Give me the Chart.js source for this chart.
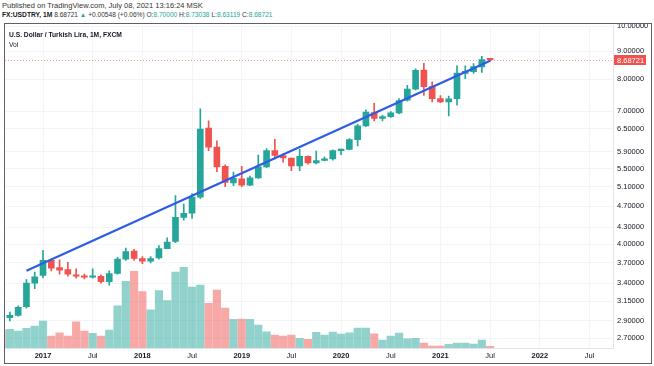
<!DOCTYPE html>
<html>
<head>
<meta charset="utf-8">
<script src="https://cdn.jsdelivr.net/npm/chart.js@4/dist/chart.umd.min.js"></script>
<style>
body { margin: 0; width: 654px; height: 366px; background: #fff; position: relative; overflow: hidden;
       font-family: "Liberation Sans", Arial, sans-serif; color: #131722; }
#pub { position: absolute; left: 2px; top: 1px; font-size: 7.5px; color: #333; white-space: nowrap; }
#sym { position: absolute; left: 2px; top: 11px; font-size: 6.6px; color: #333; white-space: nowrap; }
#sym b { color: #131722; font-size: 6.7px; }
#sym .v { color: #26a69a; }
#frame { position: absolute; left: 4px; top: 23px; width: 648px; height: 341px; box-sizing: border-box;
         border: 1px solid #5d606b; overflow: hidden; }
#chart { position: absolute; left: 0; top: -7px; }
#title { position: absolute; left: 4px; top: 7px; font-size: 6.7px; font-weight: bold; white-space: nowrap; }
#vol { position: absolute; left: 4px; top: 17px; font-size: 6.7px; white-space: nowrap; }
</style>
</head>
<body>
<div id="pub">Published on TradingView.com, July 08, 2021 13:16:24 MSK</div>
<div id="sym"><b>FX:USDTRY, 1M</b> 8.68721 <span class="v">▲</span> +0.00548 (+0.06%) O:<span class="v">8.70000</span> H:<span class="v">8.73038</span> L:<span class="v">8.63119</span> C:<span class="v">8.68721</span></div>
<div id="frame">
  <canvas id="chart" width="646" height="345"></canvas>
  <div id="title">U.S. Dollar / Turkish Lira, 1M, FXCM</div>
  <div id="vol">Vol</div>
</div>
<script>
// monthly candles, Aug 2016 .. Jul 2021 (x = month index)
var opens  = [2.97, 2.94, 2.97, 3.08, 3.40, 3.51, 3.74, 3.63, 3.60, 3.52, 3.50, 3.485, 3.50, 3.42, 3.54, 3.76, 3.89, 3.77, 3.73, 3.78,
              3.93, 4.05, 4.48, 4.56, 4.88, 6.52, 6.02, 5.55, 5.18, 5.27, 5.13, 5.29, 5.54, 5.93, 5.81, 5.75, 5.56, 5.79, 5.63, 5.69,
              5.73, 5.93, 5.96, 6.21, 6.58, 6.96, 6.79, 6.84, 6.95, 7.33, 7.68, 8.32, 7.76, 7.38, 7.28, 7.38, 8.20, 8.26, 8.43, 8.70];
var highs  = [3.00, 3.01, 3.09, 3.45, 3.56, 3.90, 3.77, 3.75, 3.71, 3.61, 3.53, 3.61, 3.52, 3.58, 3.79, 3.94, 3.92, 3.80, 3.80, 3.98,
              4.11, 4.91, 4.74, 4.95, 7.07, 6.72, 6.18, 5.59, 5.42, 5.55, 5.33, 5.82, 5.98, 6.22, 5.85, 5.75, 5.96, 5.80, 5.92, 5.78,
              5.95, 5.97, 6.24, 6.62, 7.04, 7.23, 6.88, 6.99, 7.38, 7.80, 8.36, 8.56, 7.92, 7.47, 7.46, 8.47, 8.47, 8.55, 8.81, 8.73038];
var lows   = [2.92, 2.90, 2.96, 3.06, 3.32, 3.48, 3.58, 3.53, 3.50, 3.47, 3.46, 3.47, 3.40, 3.37, 3.53, 3.74, 3.74, 3.69, 3.70, 3.76,
              3.93, 4.03, 4.43, 4.46, 4.85, 5.93, 5.43, 5.10, 5.12, 5.10, 5.12, 5.28, 5.52, 5.73, 5.65, 5.45, 5.45, 5.60, 5.61, 5.68,
              5.70, 5.83, 5.95, 6.05, 6.56, 6.72, 6.72, 6.82, 6.92, 7.30, 7.65, 7.48, 7.28, 7.25, 6.86, 7.18, 8.02, 8.20, 8.24, 8.63119];
var closes = [2.945, 2.97, 3.07, 3.40, 3.49, 3.74, 3.62, 3.59, 3.53, 3.50, 3.485, 3.50, 3.42, 3.54, 3.76, 3.88, 3.77, 3.73, 3.77, 3.93,
              4.04, 4.48, 4.56, 4.88, 6.49, 6.02, 5.54, 5.19, 5.28, 5.13, 5.29, 5.54, 5.93, 5.81, 5.75, 5.56, 5.79, 5.63, 5.69, 5.73,
              5.93, 5.96, 6.21, 6.58, 6.97, 6.79, 6.84, 6.95, 7.32, 7.68, 8.31, 7.76, 7.38, 7.28, 7.37, 8.21, 8.27, 8.44, 8.69, 8.68721];
var volumes = [18, 18.7, 17, 19.7, 22, 27, 12, 15.3, 12, 26.3, 17, 14.7, 12, 18, 42.3, 67, 77, 56.7, 38.3, 57.7,
               47.7, 76.3, 81, 61.3, 63.3, 45, 58.3, 40, 28.7, 29, 28.7, 23, 16.3, 13, 12, 13, 9.7, 8.7, 15.7, 13,
               16, 14, 15.3, 20, 20, 14.3, 8, 12, 15, 9.3, 9.7, 5, 2, 2, 3.7, 5, 5, 4, 8, 1.7];

// trend line (month index, price)
var trendX = [3, 59];
var trendY = [3.58, 8.65];

// axis ticks
var priceTicks = [10, 9, 8, 7, 6.5, 5.9, 5.5, 5.1, 4.7, 4.3, 4.0, 3.7, 3.4, 3.15, 2.9, 2.7];
var timeTickPos = [5, 11, 17, 23, 29, 35, 41, 47, 53, 59, 65, 71];
var timeTickLabels = ['2017', 'Jul', '2018', 'Jul', '2019', 'Jul', '2020', 'Jul', '2021', 'Jul', '2022', 'Jul'];

var UP = '#26a69a', DOWN = '#ef5350';
var UP_VOL = 'rgba(38,166,154,0.5)', DOWN_VOL = 'rgba(239,83,80,0.5)';

var bodies = [], wicks = [], vols = [], candleColors = [], volColors = [];
for (var i = 0; i < opens.length; i++) {
    bodies.push({x: i, y: [opens[i], closes[i]]});
    wicks.push({x: i, y: [lows[i], highs[i]]});
    vols.push({x: i, y: volumes[i]});
    var up = closes[i] >= opens[i];
    candleColors.push(up ? UP : DOWN);
    volColors.push(up ? UP_VOL : DOWN_VOL);
}
var trend = trendX.map(function (x, k) { return {x: x, y: trendY[k]}; });

var lastPrice = {
    id: 'lastPrice',
    beforeDatasetsDraw: function (chart) {
        var ctx = chart.ctx, a = chart.chartArea;
        var y = Math.round(chart.scales.y.getPixelForValue(closes[closes.length - 1])) + 0.5;
        ctx.save();
        ctx.strokeStyle = 'rgba(239,83,80,0.6)';
        ctx.lineWidth = 1;
        ctx.setLineDash([1, 2]);
        ctx.beginPath();
        ctx.moveTo(a.left, y);
        ctx.lineTo(a.right, y);
        ctx.stroke();
        ctx.restore();
    },
    afterDraw: function (chart) {
        var ctx = chart.ctx, a = chart.chartArea;
        var v = closes[closes.length - 1];
        var y = Math.round(chart.scales.y.getPixelForValue(v));
        ctx.save();
        ctx.fillStyle = DOWN;
        ctx.fillRect(a.right + 1, y - 5, 32, 10);
        ctx.fillStyle = '#fff';
        ctx.font = '7.5px "Liberation Sans", Arial, sans-serif';
        ctx.textBaseline = 'middle';
        ctx.fillText(v.toFixed(5), a.right + 4, y + 0.5);
        ctx.restore();
    }
};

var chart = new Chart(document.getElementById('chart'), {
    data: {
        datasets: [
            {type: 'line', data: trend, borderColor: '#2f5ce6', borderWidth: 2.2, pointRadius: 0,
             yAxisID: 'y', order: 0},
            {type: 'bar', data: bodies, backgroundColor: candleColors, barThickness: 6, minBarLength: 1.5,
             grouped: false, yAxisID: 'y', order: 1},
            {type: 'bar', data: wicks, backgroundColor: candleColors, barThickness: 1,
             grouped: false, yAxisID: 'y', order: 2},
            {type: 'bar', data: vols, backgroundColor: volColors, barThickness: 7.5,
             grouped: false, yAxisID: 'y2', order: 3}
        ]
    },
    options: {
        responsive: false,
        animation: false,
        devicePixelRatio: 1,
        layout: {padding: 0},
        plugins: {legend: {display: false}, tooltip: {enabled: false}},
        scales: {
            x: {
                type: 'linear',
                offset: false,
                min: 0.41,
                max: 73.84,
                grid: {color: '#f3f4f7', drawTicks: false, offset: false},
                border: {color: '#e0e3eb'},
                afterBuildTicks: function (s) { s.ticks = timeTickPos.map(function (v) { return {value: v}; }); },
                afterFit: function (s) { s.height = 14; },
                ticks: {
                    autoSkip: false, maxRotation: 0, padding: 3, color: '#131722',
                    font: function (c) {
                        var lab = timeTickLabels[c.index];
                        return {size: 7.5, family: '"Liberation Sans", Arial, sans-serif',
                                weight: lab === 'Jul' ? 'normal' : 'bold'};
                    },
                    callback: function (v, idx) { return timeTickLabels[idx]; }
                }
            },
            y: {
                type: 'logarithmic',
                position: 'right',
                min: 2.589,
                max: 10.03,
                grid: {color: '#f3f4f7', drawTicks: false},
                border: {color: '#e0e3eb'},
                afterBuildTicks: function (s) { s.ticks = priceTicks.map(function (v) { return {value: v}; }); },
                afterFit: function (s) { s.width = 38; },
                ticks: {
                    padding: 4, color: '#131722',
                    font: {size: 7.5, family: '"Liberation Sans", Arial, sans-serif'},
                    callback: function (v) { return Number(v).toFixed(5); }
                }
            },
            y2: {
                type: 'linear',
                display: false,
                min: 0,
                max: 324
            }
        }
    },
    plugins: [lastPrice]
});
</script>
</body>
</html>
